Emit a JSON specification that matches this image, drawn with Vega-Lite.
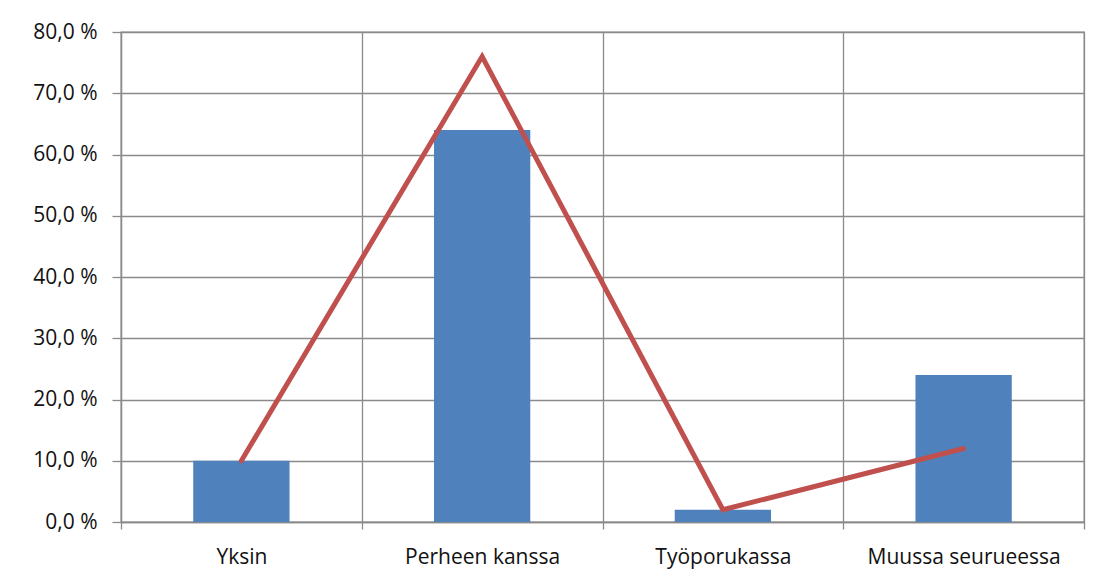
{
  "$schema": "https://vega.github.io/schema/vega-lite/v6.json",
  "autosize": "none",
  "width": 963,
  "height": 490,
  "padding": {"left": 121, "top": 32, "right": 31, "bottom": 56},
  "background": "white",
  "data": {
    "values": [
      {"kategoria": "Yksin", "osuus": 10.0, "vertailu": 10.0},
      {"kategoria": "Perheen kanssa", "osuus": 64.0, "vertailu": 76.0},
      {"kategoria": "Työporukassa", "osuus": 2.0, "vertailu": 2.0},
      {"kategoria": "Muussa seurueessa", "osuus": 24.0, "vertailu": 12.0}
    ]
  },
  "encoding": {
    "x": {
      "field": "kategoria",
      "type": "nominal",
      "sort": null,
      "scale": {"paddingInner": 0, "paddingOuter": 0},
      "axis": {
        "title": null,
        "labelAngle": 0,
        "labelLimit": 400,
        "tickBand": "extent",
        "grid": true,
        "gridColor": "#8a8a8a",
        "gridWidth": 1.3,
        "domainColor": "#8a8a8a",
        "domainWidth": 1.3,
        "tickColor": "#8a8a8a",
        "tickWidth": 1.3,
        "tickSize": 7,
        "labelPadding": 17,
        "labelFont": "Open Sans",
        "labelFontSize": 21,
        "labelColor": "#111111"
      }
    }
  },
  "layer": [
    {
      "mark": {"type": "bar", "color": "#4F81BD", "width": {"band": 0.4}},
      "encoding": {
        "y": {
          "field": "osuus",
          "type": "quantitative",
          "scale": {"domain": [0, 80]},
          "axis": {
            "title": null,
            "values": [0, 10, 20, 30, 40, 50, 60, 70, 80],
            "labelExpr": "replace(format(datum.value, '.1f'), '.', ',') + ' %'",
            "grid": true,
            "gridColor": "#8a8a8a",
            "gridWidth": 1.3,
            "domainColor": "#8a8a8a",
            "domainWidth": 1.3,
            "tickColor": "#8a8a8a",
            "tickWidth": 1.3,
            "tickSize": 9,
            "labelPadding": 15,
            "labelFont": "Open Sans",
            "labelFontSize": 21,
            "labelColor": "#111111"
          }
        }
      }
    },
    {
      "mark": {
        "type": "line",
        "color": "#C0504D",
        "strokeWidth": 5,
        "strokeCap": "round",
        "strokeJoin": "miter"
      },
      "encoding": {
        "y": {"field": "vertailu", "type": "quantitative"}
      }
    }
  ],
  "config": {
    "view": {"stroke": "#8a8a8a", "strokeWidth": 1.3}
  }
}
